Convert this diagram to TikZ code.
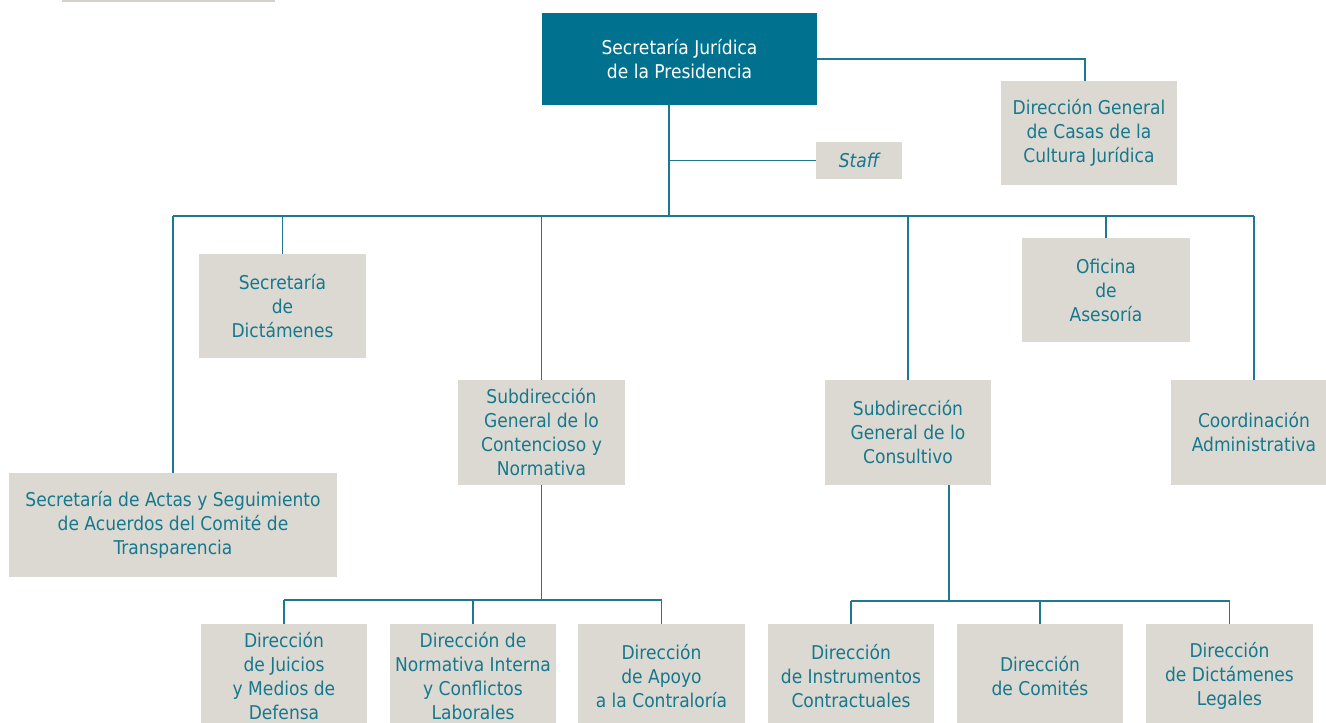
\documentclass[tikz,border=0pt]{standalone}
\usepackage{fontspec}
\setmainfont{DejaVu Sans Condensed}
\definecolor{teal1}{RGB}{0,114,143}
\definecolor{tealtxt}{RGB}{22,120,140}
\definecolor{boxgray}{RGB}{220,217,211}
\definecolor{linecol}{RGB}{30,120,145}
\definecolor{topline}{RGB}{212,209,202}
\tikzset{
  gbox/.style={fill=boxgray, text=tealtxt, align=center, inner sep=0pt,
    font=\fontsize{19}{24}\selectfont},
  topbox/.style={fill=teal1, text=white, align=center, inner sep=0pt,
    font=\fontsize{19}{24}\selectfont},
  conn/.style={draw=linecol, line width=1.3pt},
}
\begin{document}
\begin{tikzpicture}[x=1pt,y=-1pt]
\path[use as bounding box, clip] (0,0) rectangle (1326,723);
\draw[topline, line width=1.6pt] (62,0.8) -- (275,0.8);

\node[topbox, minimum width=275pt, minimum height=92pt] (sjp) at (679.5,59) {Secretaría Jurídica\\de la Presidencia};
\node[gbox, minimum width=176pt, minimum height=104pt] (dgc) at (1089,133) {\raisebox{3pt}{\parbox{174pt}{\centering Dirección General\\de Casas de la\\Cultura Jurídica}}};
\node[gbox, minimum width=86pt, minimum height=37pt, font=\fontsize{19}{24}\selectfont\itshape] (staff) at (859,160.5) {Staff};

\node[gbox, minimum width=167pt, minimum height=104pt] (dict) at (282.5,306) {Secretaría\\de\\Dictámenes};
\node[gbox, minimum width=328pt, minimum height=104pt] (actas) at (173,525) {Secretaría de Actas y Seguimiento\\de Acuerdos del Comité de\\Transparencia};
\node[gbox, minimum width=167pt, minimum height=105pt] (cont) at (541.5,432.5) {Subdirección\\General de lo\\Contencioso y\\Normativa};
\node[gbox, minimum width=166pt, minimum height=105pt] (cons) at (908,432.5) {Subdirección\\General de lo\\Consultivo};
\node[gbox, minimum width=168pt, minimum height=104pt] (ofi) at (1106,290) {Oficina\\de\\Asesoría};
\node[gbox, minimum width=166pt, minimum height=105pt] (coord) at (1254,432.5) {Coordinación\\Administrativa};

\node[gbox, minimum width=166pt, minimum height=104pt] (b1) at (284,676) {Dirección\\de Juicios\\y Medios de\\Defensa};
\node[gbox, minimum width=166pt, minimum height=104pt] (b2) at (473,676) {Dirección de\\Normativa Interna\\y Conflictos\\Laborales};
\node[gbox, minimum width=167pt, minimum height=104pt] (b3) at (661.5,676) {Dirección\\de Apoyo\\a la Contraloría};
\node[gbox, minimum width=166pt, minimum height=104pt] (b4) at (851,676) {Dirección\\de Instrumentos\\Contractuales};
\node[gbox, minimum width=166pt, minimum height=104pt] (b5) at (1040,676) {Dirección\\de Comités};
\node[gbox, minimum width=167pt, minimum height=104pt] (b6) at (1229.5,676) {Dirección\\de Dictámenes\\Legales};

\coordinate (bus) at (669,216);
\coordinate (busL) at (541.5,600);
\coordinate (busR) at (949,601);

% top connections
\draw[conn] (sjp.east) -| ([xshift=-4pt]dgc.north);
\draw[conn] (sjp.south -| bus) -- (bus);
\draw[conn] (staff.west -| bus) -- (staff.west);
\draw[conn] (actas.north |- bus) -- (coord.north |- bus);
\draw[conn] (actas.north |- bus) -- (actas.north);
\draw[conn] (dict.north |- bus) -- (dict.north);
\draw[conn] (cont.north |- bus) -- (cont.north);
\draw[conn] (cons.north |- bus) -- (cons.north);
\draw[conn] (ofi.north |- bus) -- (ofi.north);
\draw[conn] (coord.north |- bus) -- (coord.north);

% lower left group
\draw[conn] (cont.south) -- (busL);
\draw[conn] (b1.north |- busL) -- (b3.north |- busL);
\draw[conn] (b1.north |- busL) -- (b1.north);
\draw[conn] (b2.north |- busL) -- (b2.north);
\draw[conn] (b3.north |- busL) -- (b3.north);

% lower right group
\draw[conn] (cons.south -| busR) -- (busR);
\draw[conn] (b4.north |- busR) -- (b6.north |- busR);
\draw[conn] (b4.north |- busR) -- (b4.north);
\draw[conn] (b5.north |- busR) -- (b5.north);
\draw[conn] (b6.north |- busR) -- (b6.north);
\end{tikzpicture}
\end{document}
